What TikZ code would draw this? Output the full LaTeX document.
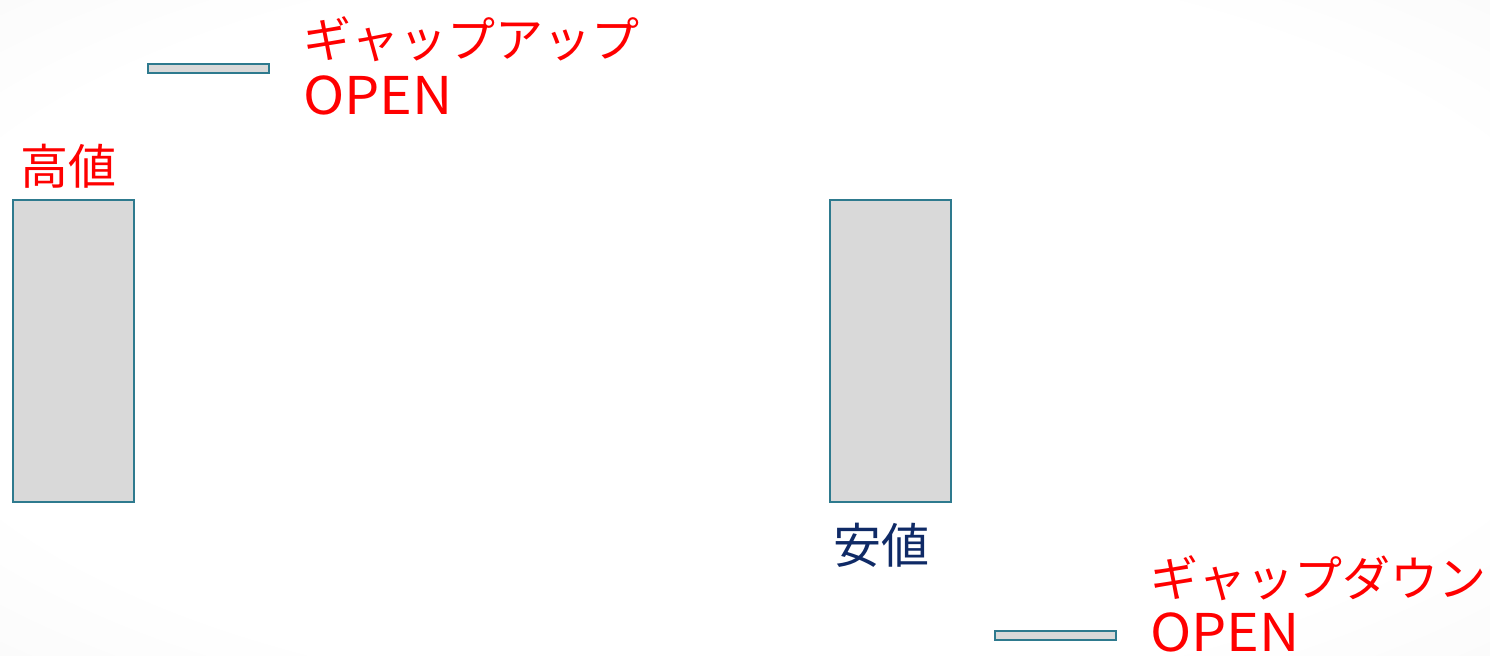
\documentclass[tikz,border=0pt]{standalone}
\usepackage{fontspec}
\newfontfamily\jpfont{Noto Sans CJK JP}
\newfontfamily\jplatin[FakeStretch=1.07]{Noto Sans CJK JP}
\definecolor{edgeteal}{HTML}{2E7A8E}
\definecolor{boxgray}{HTML}{D9D9D9}
\definecolor{labelred}{HTML}{FF0000}
\definecolor{labelnavy}{HTML}{0F2A66}
\pgfdeclareradialshading{bgshade}{\pgfpoint{0bp}{0bp}}{color(0bp)=(white); color(28bp)=(white); color(71bp)=(black!9)}
\begin{document}
\begin{tikzpicture}[x=0.5pt,y=-0.5pt,
  candle/.style={draw=edgeteal, fill=boxgray, line width=1pt},
  lbl/.style={anchor=base west, inner sep=0pt, font=\jpfont\fontsize{24pt}{28pt}\selectfont},
  latin/.style={anchor=base west, inner sep=0pt, font=\jplatin\fontsize{26pt}{30pt}\selectfont}]
\useasboundingbox (0,0) rectangle (1490,656);
\shade[shading=bgshade] (0,0) rectangle (1490,656);
% candles
\draw[candle] (13,200) rectangle (134,502);
\draw[candle] (830,200) rectangle (951,502);
\draw[candle] (148,64) rectangle (269,73);
\draw[candle] (995,631) rectangle (1116,640);
% labels
\node[lbl, text=labelred] (upjp) at (303,58) {ギャップアップ};
\node[latin, text=labelred] (upen) at (303,115) {OPEN};
\node[lbl, text=labelred] (high) at (20,185) {高値};
\node[lbl, text=labelnavy] (low) at (833,564) {安値};
\node[lbl, text=labelred] (dnjp) at (1150,597) {ギャップダウン};
\node[latin, text=labelred] (dnen) at (1150,652) {OPEN};
\end{tikzpicture}
\end{document}
